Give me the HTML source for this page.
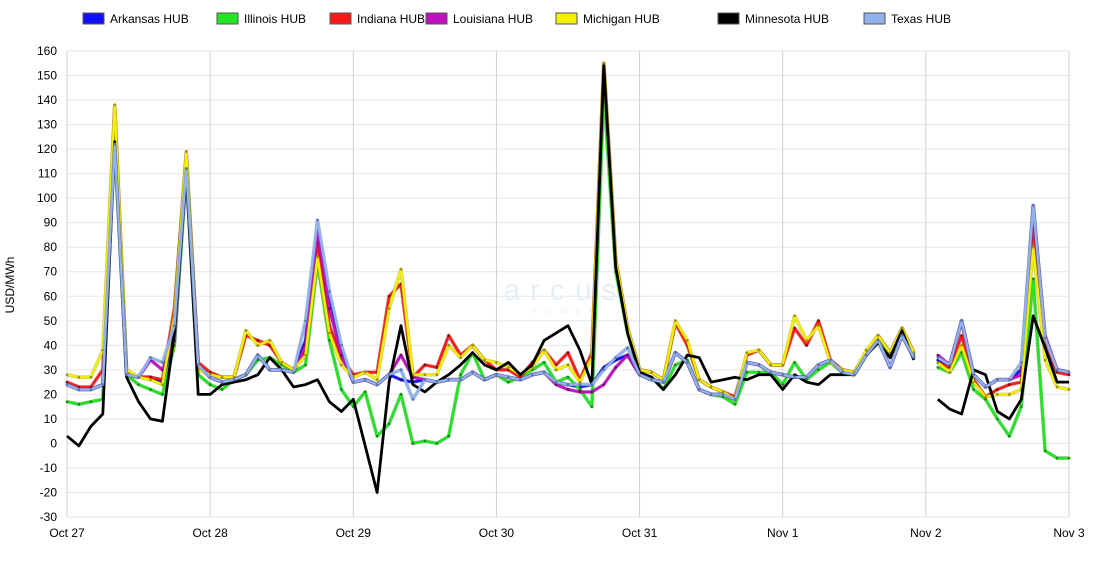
<!DOCTYPE html>
<html><head><meta charset="utf-8"><style>
body{margin:0;background:#fff;font-family:"Liberation Sans",Arial,sans-serif}
svg text{font-family:"Liberation Sans",Arial,sans-serif}
</style></head><body>
<svg id="chart" width="1100" height="570" xmlns="http://www.w3.org/2000/svg">
<g id="grid"></g>
<g id="axes"></g>
<text x="565" y="300" text-anchor="middle" font-size="30" fill="#e6eef5" letter-spacing="10">arcus</text>
<text x="567" y="314" text-anchor="middle" font-size="8" fill="#eceff3" letter-spacing="8">POWER</text>
<g id="series"></g>
<g id="legend"></g>
<text transform="translate(14,285) rotate(-90)" text-anchor="middle" font-size="12" fill="#000">USD/MWh</text>
</svg>
<script>
const dayLabels=["Oct 27","Oct 28","Oct 29","Oct 30","Oct 31","Nov 1","Nov 2","Nov 3"];
const yTicks=[160,150,140,130,120,110,100,90,80,70,60,50,40,30,20,10,0,-10,-20,-30];
const seriesNames=["Arkansas HUB","Illinois HUB","Indiana HUB","Louisiana HUB","Michigan HUB","Minnesota HUB","Texas HUB"];
const arkansas=[24,22,22,24,124,28,27,27,25,45,114,32,27,25,26,28,36,30,30,29,42,89,60,38,25,26,24,28,26,25,26,25,26,26,29,26,28,27,26,28,29,25,24,23,24,31,34,36,28,26,25,37,33,22,20,20,18,33,32,29,28,27,27,32,34,29,28,36,42,31,44,35,null,34,32,50,28,23,26,26,30,97,42,30,29];
const illinois=[17,16,17,18,127,28,24,22,20,40,110,28,24,22,26,28,34,35,32,29,32,74,42,22,15,21,3,8,20,0,1,0,3,28,37,26,28,25,27,30,33,25,27,22,15,143,70,45,28,27,22,32,34,22,20,19,16,29,29,29,24,33,26,30,33,29,28,36,42,35,46,36,null,31,29,37,22,18,10,3,15,67,-3,-6,-6];
const indiana=[25,23,23,30,137,29,27,27,26,55,118,33,29,27,27,44,42,40,33,30,38,82,48,35,28,29,29,60,65,27,32,31,44,36,40,34,30,30,27,33,38,32,37,26,37,155,75,47,30,29,26,49,40,26,23,21,19,36,38,32,32,47,40,50,34,30,29,37,44,37,47,37,null,33,31,44,26,19,22,24,25,88,40,29,28];
const louisiana=[24,22,22,24,123,28,27,34,30,42,115,32,27,25,26,28,36,30,30,29,40,87,55,36,25,26,24,28,36,27,26,25,26,26,29,26,28,27,26,28,29,24,22,21,21,24,31,36,28,26,25,37,33,22,20,20,18,33,32,29,28,27,27,32,34,29,28,36,42,31,44,35,null,36,32,50,28,23,26,26,28,96,44,30,29];
const michigan=[28,27,27,38,138,30,27,26,24,52,119,30,28,27,27,46,40,42,33,30,36,76,45,32,27,29,26,55,71,28,28,28,40,35,40,34,33,31,28,31,38,30,32,25,35,155,75,47,30,29,26,50,42,26,23,21,18,37,38,32,32,52,42,48,33,30,29,38,44,37,47,37,null,33,29,40,25,19,20,20,22,80,34,23,22];
const minnesota=[3,-1,7,12,123,27,17,10,9,45,110,20,20,24,25,26,28,35,30,23,24,26,17,13,18,-1,-20,25,48,24,21,25,28,32,37,32,30,33,28,32,42,45,48,38,24,154,72,45,29,27,22,28,36,35,25,26,27,26,28,28,22,28,25,24,28,28,28,36,41,35,46,34,null,18,14,12,30,28,13,10,18,52,39,25,25];
const texas=[24,22,22,24,122,28,27,35,33,48,112,32,27,25,26,28,36,30,30,29,50,91,62,40,25,26,24,28,30,18,26,25,26,26,29,26,28,27,26,28,29,25,24,24,24,30,35,39,28,26,25,37,33,22,20,20,18,33,32,29,28,27,27,32,34,29,28,36,42,31,44,35,null,35,32,50,28,23,26,26,33,97,43,30,29];

const X0=67,X1=1069,Y0=51,Y1=517,VMAX=160,VMIN=-30;
function xDay(d){return X0+(X1-X0)*d/7;}
function xIdx(i){return X0+(X1-X0)*(i*2)/168;}
function yVal(v){return Y0+(VMAX-v)*(Y1-Y0)/(VMAX-VMIN);}
const NS="http://www.w3.org/2000/svg";
function mk(tag,attrs,parent){const e=document.createElementNS(NS,tag);for(const k in attrs)e.setAttribute(k,attrs[k]);parent.appendChild(e);return e;}
const grid=document.getElementById('grid'),axes=document.getElementById('axes'),sg=document.getElementById('series'),lg=document.getElementById('legend');
yTicks.forEach(t=>{
  const l=mk('line',{x1:X0,x2:X1,y1:yVal(t),y2:yVal(t),stroke:'#e6e6e6','stroke-width':1},grid);
  
  
  const tx=mk('text',{x:57,y:yVal(t)+4,'text-anchor':'end','font-size':12,fill:'#000'},axes);
  tx.textContent=t;
  
  
});
dayLabels.forEach((d,i)=>{
  const l=mk('line',{x1:xDay(i),x2:xDay(i),y1:Y0,y2:Y1,stroke:'#d0d0d0','stroke-width':1},grid);
  
  
  const tx=mk('text',{x:xDay(i),y:537,'text-anchor':'middle','font-size':12,fill:'#000'},axes);
  tx.textContent=d;
  
  
});
const data=[arkansas,illinois,indiana,louisiana,michigan,minnesota,texas];
const colors=['#1010ff','#22e622','#ff1a1a','#c010c0','#f5f000','#000000','#90b2ee'];
const edges=['#00008a','#128a12','#8a0000','#6a006a','#9a9000','#000000','#5a78b0'];
data.forEach((arr,s)=>{
  const g=mk('g',{},sg);
  
  
  let segs=[],cur='';
  arr.forEach((v,i)=>{
    if(v===null){if(cur)segs.push(cur);cur='';return;}
    cur+=(cur?'L':'M')+xIdx(i).toFixed(1)+','+yVal(v).toFixed(1);
  });
  if(cur)segs.push(cur);
  const d=segs.join(' ');
  if(s!==5){const u=mk('path',{d:d,fill:'none',stroke:edges[s],'stroke-width':3.6,'stroke-opacity':0.5,'stroke-linejoin':'round'},g);
    
    }
  const p=mk('path',{d:d,fill:'none',stroke:colors[s],'stroke-width':s===5?2.8:2.4,'stroke-linejoin':'round'},g);
  
  
  if(s!==5){arr.forEach((v,i)=>{if(v===null)return;
    const c=mk('circle',{cx:xIdx(i),cy:yVal(v),r:1.3,fill:edges[s]},g);
    
    });}
});
const legX=[83,217,330,426,556,718,864];
seriesNames.forEach((n,s)=>{
  const g=mk('g',{},lg);
  
  
  const r=mk('rect',{x:legX[s],y:13,width:21,height:11,fill:colors[s],stroke:'#555','stroke-width':1},g);
  
  
  const t=mk('text',{x:legX[s]+27,y:23,'font-size':12,fill:'#000'},g);
  t.textContent=n;
  
  
});
</script>
</body></html>
